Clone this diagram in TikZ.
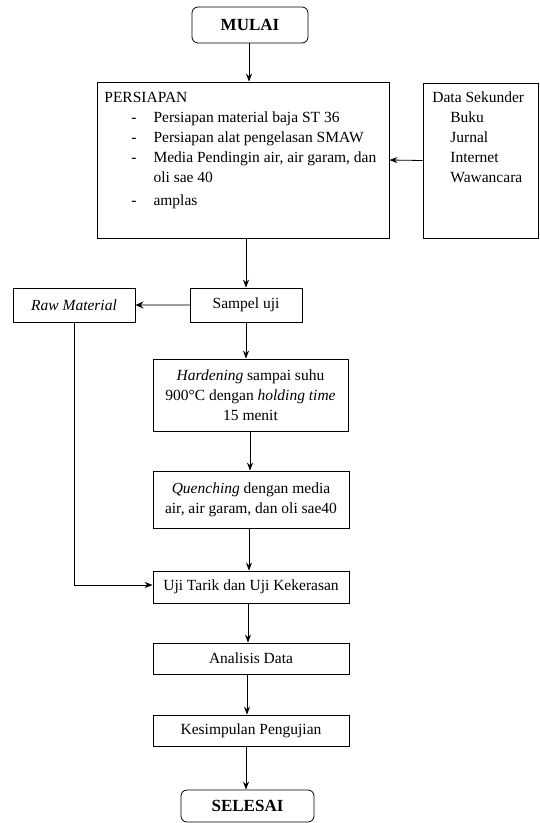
\documentclass[tikz,border=0pt]{standalone}
\usepackage{fontspec}
\setmainfont{Liberation Serif}
\usetikzlibrary{arrows.meta,calc}

\tikzset{every picture/.style={line width=0.8pt}}
\tikzset{
  box/.style={draw, rectangle, inner sep=0pt, align=center, font=\fontsize{15.5}{20}\selectfont},
  rbox/.style={box, rounded corners=6pt, font=\fontsize{17}{20}\selectfont\bfseries},
  arr/.style={-{Stealth[length=8pt,width=6pt]}},
  txt/.style={inner sep=0pt, anchor=north west, font=\fontsize{15.5}{20}\selectfont}
}

\begin{document}
\begin{tikzpicture}[x=1pt,y=1pt,yscale=-1,xscale=1]
        \useasboundingbox (0,0) rectangle (539,823);

        % Boxes
        \node [rbox, minimum width=116, minimum height=36] (mulai) at (250,25) {MULAI};
        \node [box, minimum width=292, minimum height=156] (persiapan) at (243,160) {};
        \node [box, minimum width=115, minimum height=155] (data) at (480.5,160.5) {};
        \node [box, minimum width=112, minimum height=34] (sampel) at (246,305) {Sampel uji};
        \node [box, minimum width=122, minimum height=34] (raw) at (74,305) {\textit{Raw Material}};
        \node [box, minimum width=195, minimum height=72] (hardening) at (250.5,395) {\textit{Hardening} sampai suhu\\900°C dengan \textit{holding time}\\15 menit};
        \node [box, minimum width=196, minimum height=57] (quenching) at (251,499.5) {\textit{Quenching} dengan media\\air, air garam, dan oli sae40};
        \node [box, minimum width=196, minimum height=32] (uji) at (251,587) {Uji Tarik dan Uji Kekerasan};
        \node [box, minimum width=196, minimum height=31] (analisis) at (251,658.5) {Analisis Data};
        \node [box, minimum width=196, minimum height=31] (kesimpulan) at (251,730.5) {Kesimpulan Pengujian};
        \node [rbox, minimum width=133, minimum height=32] (selesai) at (247.5,806) {SELESAI};

        % Text in the two big boxes
        \node [txt] (persiapanteks) at (104,88) {\begin{tabular}{@{\hspace{27pt}}l@{\hspace{17pt}}l@{}}
            \multicolumn{2}{@{}l}{PERSIAPAN}\\
            - & Persiapan material baja ST 36\\
            - & Persiapan alat pengelasan SMAW\\
            - & Media Pendingin air, air garam, dan\\
              & oli sae 40\\[3pt]
            - & amplas
          \end{tabular}};
        \node [txt] (datateks) at (432,88) {\begin{tabular}{@{\hspace{18pt}}l@{}}
            \multicolumn{1}{@{}l}{Data Sekunder}\\
            Buku\\
            Jurnal\\
            Internet\\
            Wawancara
          \end{tabular}};

        % Connectors
        \draw [arr] (mulai.south -| 249,0) -- (persiapan.north -| 249,0);
        \draw [arr] (data.west) -- (persiapan.east);
        \draw [arr] (persiapan.south -| sampel.north) -- (sampel.north);
        \draw [arr, gray!75, line width=1.8pt, -{Stealth[length=8pt,width=7pt,color=black]}] (sampel.west) -- (raw.east);
        \draw [arr] (sampel.south) -- (sampel.south |- hardening.north);
        \draw [arr] (hardening.south -| 250,0) -- (quenching.north -| 250,0);
        \draw [arr] (quenching.south -| 249,0) -- (uji.north -| 249,0);
        \draw [arr] (raw.south) |- ($(uji.west)+(0,-2)$);
        \draw [arr] (uji.south -| 248,0) -- (analisis.north -| 248,0);
        \draw [arr] (analisis.south -| 247,0) -- (kesimpulan.north -| 247,0);
        \draw [arr] (kesimpulan.south -| 246,0) -- (selesai.north -| 246,0);

\end{tikzpicture}
\end{document}
